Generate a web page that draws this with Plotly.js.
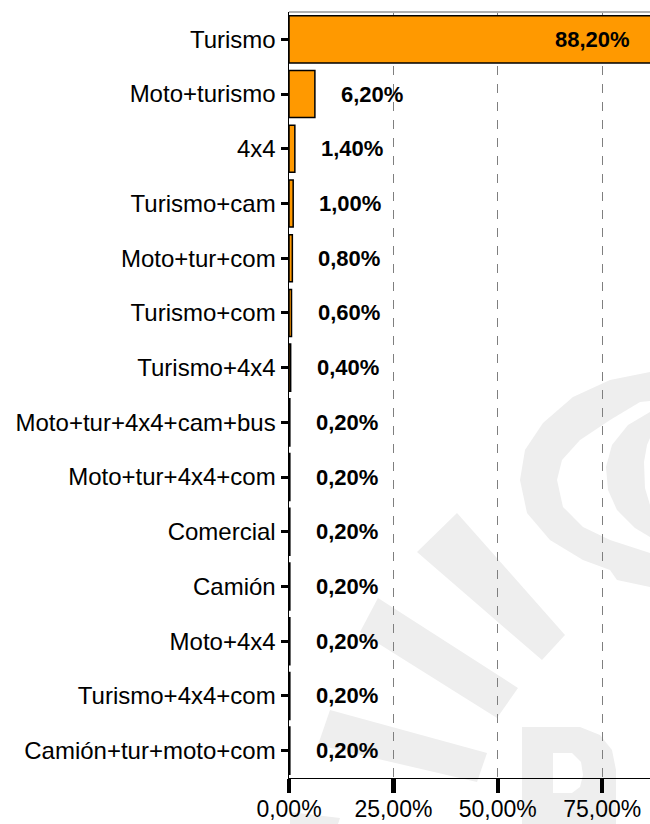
<!DOCTYPE html>
<html>
<head>
<meta charset="utf-8">
<script src="https://cdn.plot.ly/plotly-3.0.1.min.js"></script>
<style>html,body{margin:0;padding:0;background:#fff;}</style>
</head>
<body>
<div id="chart" style="width:650px;height:824px;"></div>
<script>
const categories = ["Turismo","Moto+turismo","4x4","Turismo+cam","Moto+tur+com","Turismo+com","Turismo+4x4","Moto+tur+4x4+cam+bus","Moto+tur+4x4+com","Comercial","Camión","Moto+4x4","Turismo+4x4+com","Camión+tur+moto+com"];
const values = [88.2, 6.2, 1.4, 1.0, 0.8, 0.6, 0.4, 0.2, 0.2, 0.2, 0.2, 0.2, 0.2, 0.2];
const xTickVals = [0, 25, 50, 75];
const xTickText = ["0,00%", "25,00%", "50,00%", "75,00%"];

const FONT = "Liberation Sans, Arial, sans-serif";
const xMax = 86.45;

const fmt = v => v.toFixed(2).replace('.', ',') + '%';

const annotations = values.map((v, i) => {
  const inside = v > xMax * 0.9;
  return {
    x: inside ? xMax : v,
    y: categories[i],
    xref: 'x', yref: 'y',
    text: fmt(v),
    showarrow: false,
    xanchor: inside ? 'right' : 'center',
    xshift: inside ? -18 : 57,
    font: {family: FONT, size: 22, color: '#000', weight: 'bold'}
  };
});

// Background watermark (decoration), drawn in page pixels and mapped to paper units
const M = {l: 289, t: 12, w: 650 - 289, h: 778 - 12};
const toPath = (pts) => 'M ' + pts.map(p => ((p[0] - M.l) / M.w).toFixed(4) + ',' + ((M.t + M.h - p[1]) / M.h).toFixed(4)).join(' L ') + ' Z';
const wmColor = '#eeeeee';
const wmPolys = [
  [[417,552],[457,513],[565,635],[542,660]],
  [[378,598],[518,688],[497,718],[360,632]],
  [[330,710],[487,753],[477,782],[318,745]],
  [[290,812],[340,818],[338,824],[290,824]],
  [[650,372],[610,380],[573,397],[543,423],[525,450],[520,480],[527,513],[550,540],[583,560],[610,570],[617,580],[650,587],
   [650,553],[610,540],[583,527],[563,507],[557,480],[562,460],[580,440],[610,420],[640,402],[650,401]],
  [[650,412],[628,425],[612,445],[606,467],[608,490],[617,510],[635,528],[650,537],[650,505],[645,488],[644,462],[647,445],[650,438]],
  [[522,727],[580,727],[600,735],[612,750],[616,770],[616,824],[522,824]]
];
const wmHole = [[553,753],[572,753],[581,762],[583,775],[580,787],[572,793],[553,793]];
const shapes = wmPolys.map(p => ({type: 'path', xref: 'paper', yref: 'paper', path: toPath(p), fillcolor: wmColor, line: {width: 0}, layer: 'below'}));
shapes.push({type: 'path', xref: 'paper', yref: 'paper', path: toPath(wmHole), fillcolor: '#ffffff', line: {width: 0}, layer: 'below'});
shapes.push({type: 'line', xref: 'paper', yref: 'paper', x0: 0, x1: 1, y0: 1, y1: 1, line: {color: '#b0b0b0', width: 2}});

const trace = {
  type: 'bar',
  orientation: 'h',
  x: values,
  y: categories,
  marker: {color: '#FF9900', line: {color: '#000', width: 1.5}},
  hoverinfo: 'none'
};

const layout = {
  width: 650, height: 824,
  margin: {l: 289, r: 0, t: 12, b: 46, pad: 0},
  paper_bgcolor: '#fff', plot_bgcolor: 'rgba(0,0,0,0)',
  showlegend: false,
  bargap: 0.14,
  font: {family: FONT, color: '#000'},
  xaxis: {
    range: [0, xMax],
    tickvals: xTickVals, ticktext: xTickText,
    showgrid: true, griddash: 'dash', gridcolor: '#7f7f7f', gridwidth: 1,
    zeroline: false,
    showline: true, linecolor: '#000', linewidth: 1,
    ticks: 'outside', ticklen: 14, tickwidth: 4.5, tickcolor: '#000',
    ticklabelstandoff: -4,
    tickfont: {family: FONT, size: 23, color: '#000'},
    fixedrange: true
  },
  yaxis: {
    type: 'category',
    categoryorder: 'array', categoryarray: categories,
    autorange: 'reversed',
    showgrid: false, zeroline: false,
    showline: true, linecolor: '#000', linewidth: 1.5,
    ticks: 'outside', ticklen: 7, tickwidth: 3, tickcolor: '#000',
    tickfont: {family: FONT, size: 24, color: '#000'},
    fixedrange: true
  },
  shapes: shapes,
  annotations: annotations
};

Plotly.newPlot('chart', [trace], layout, {displayModeBar: false, staticPlot: true});
</script>
</body>
</html>
